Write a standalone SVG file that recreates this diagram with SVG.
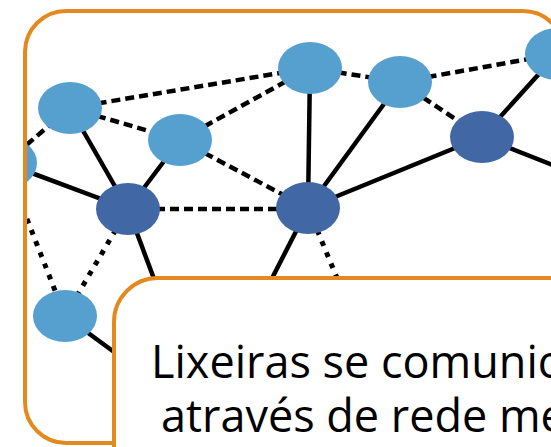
<svg xmlns="http://www.w3.org/2000/svg" width="551" height="447" viewBox="0 0 551 447">
  <style>
    .frame { fill: #ffffff; stroke: #E4891F; stroke-width: 4; }
    .solid { stroke: #000000; stroke-width: 4.5; fill: none; }
    .dash { stroke: #000000; stroke-width: 4.5; fill: none; stroke-dasharray: 9 5; }
    .dot { stroke: #000000; stroke-width: 5; fill: none; stroke-dasharray: 5 7; }
    .light { fill: #55A0CF; }
    .dark { fill: #4168A5; }
    .label { font-family: "Open Sans", "Noto Sans", "DejaVu Sans", sans-serif; font-size: 45px; fill: #000000; }
  </style>
  <defs>
    <clipPath id="pic">
      <rect x="27" y="13" width="535" height="428" rx="39" ry="39"/>
    </clipPath>
  </defs>

  <g id="outer-frame">
    <rect class="frame" x="25" y="11" width="539" height="432" rx="41" ry="41"/>
  </g>

  <g id="network" clip-path="url(#pic)">
    <g id="connectors">
      <line class="solid" x1="70" y1="108" x2="128" y2="209"/>
      <line class="solid" x1="5" y1="163" x2="128" y2="209"/>
      <line class="solid" x1="180" y1="140" x2="128" y2="209"/>
      <line class="solid" x1="128" y1="209" x2="160" y2="295"/>
      <line class="solid" x1="310" y1="68" x2="308" y2="208"/>
      <line class="solid" x1="400" y1="82" x2="308" y2="208"/>
      <line class="solid" x1="482" y1="137" x2="308" y2="208"/>
      <line class="solid" x1="308" y1="208" x2="265" y2="292"/>
      <line class="solid" x1="482" y1="137" x2="557" y2="54"/>
      <line class="solid" x1="482" y1="137" x2="560" y2="168"/>
      <line class="solid" x1="65" y1="316" x2="125" y2="360"/>
      <line class="dash" x1="70" y1="108" x2="310" y2="68"/>
      <line class="dash" x1="70" y1="108" x2="180" y2="140"/>
      <line class="dash" x1="5" y1="163" x2="70" y2="108"/>
      <line class="dash" x1="180" y1="140" x2="310" y2="68"/>
      <line class="dash" x1="180" y1="140" x2="308" y2="208"/>
      <line class="dash" x1="128" y1="209" x2="308" y2="209"/>
      <line class="dash" x1="310" y1="68" x2="400" y2="82"/>
      <line class="dash" x1="400" y1="82" x2="557" y2="54"/>
      <line class="dash" x1="400" y1="82" x2="482" y2="137"/>
      <line class="dot" x1="128" y1="209" x2="65" y2="316"/>
      <line class="dot" x1="5" y1="163" x2="65" y2="316"/>
      <line class="dot" x1="308" y1="208" x2="342" y2="290"/>
    </g>

    <g id="node-l1"><ellipse class="light" cx="70" cy="108" rx="32" ry="26"/></g>
    <g id="node-l2"><ellipse class="light" cx="180" cy="140" rx="32" ry="26"/></g>
    <g id="node-l3"><ellipse class="light" cx="5" cy="163" rx="32" ry="26"/></g>
    <g id="node-l4"><ellipse class="light" cx="310" cy="68" rx="32" ry="26"/></g>
    <g id="node-l5"><ellipse class="light" cx="400" cy="82" rx="32" ry="26"/></g>
    <g id="node-l6"><ellipse class="light" cx="557" cy="54" rx="32" ry="26"/></g>
    <g id="node-l7"><ellipse class="light" cx="65" cy="316" rx="32" ry="26"/></g>
    <g id="node-d1"><ellipse class="dark" cx="128" cy="209" rx="32" ry="26"/></g>
    <g id="node-d2"><ellipse class="dark" cx="308" cy="208" rx="32" ry="26"/></g>
    <g id="node-d3"><ellipse class="dark" cx="482" cy="137" rx="32" ry="26"/></g>
  </g>

  <g id="caption">
    <rect class="frame" x="114" y="278" width="520" height="240" rx="44" ry="44"/>
    <text class="label" x="151" y="378">Lixeiras se comunic</text>
    <text class="label" x="161" y="432">através de rede me</text>
  </g>
</svg>
